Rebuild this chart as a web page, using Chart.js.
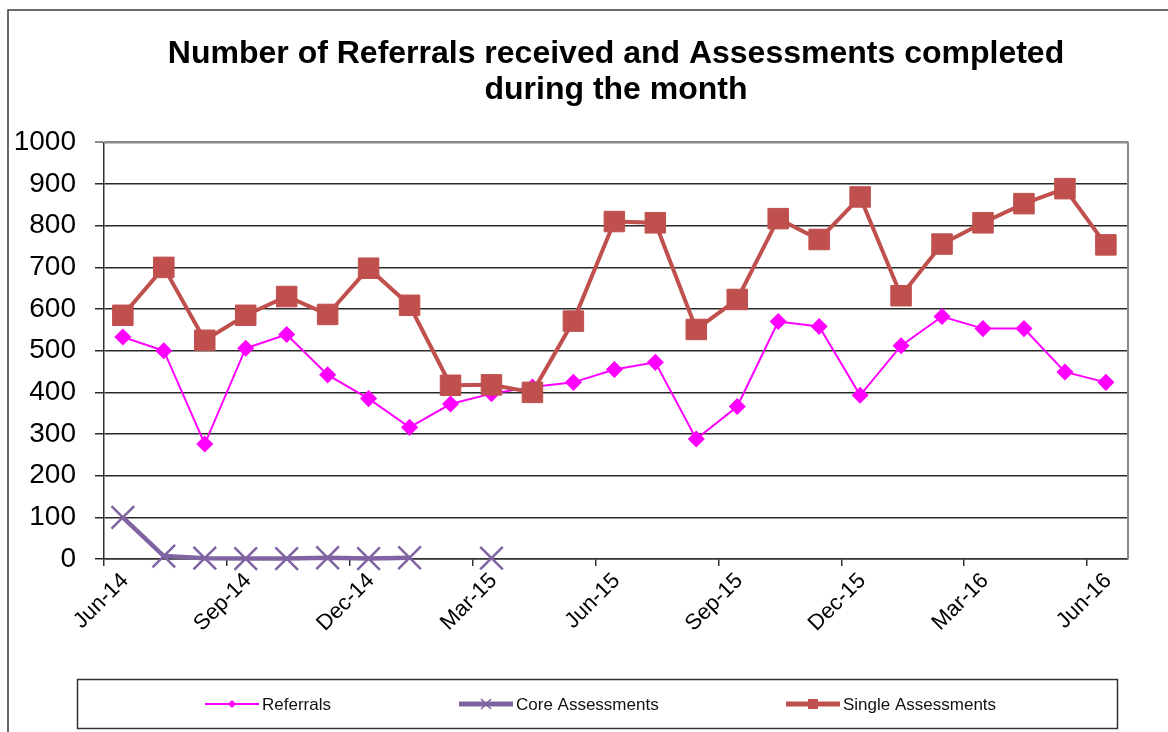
<!DOCTYPE html>
<html>
<head>
<meta charset="utf-8">
<script src="https://cdn.jsdelivr.net/npm/chart.js"></script>
<style>
  html, body { margin: 0; padding: 0; background: #fff; }
  #wrap { width: 1168px; height: 732px; }
</style>
</head>
<body>
<div id="wrap"><canvas id="grafico" width="1168" height="732"></canvas></div>
<script>
// Meses (Jun-14 .. Jun-16) e rótulos do eixo X
const meses = ['Jun-14','Jul-14','Aug-14','Sep-14','Oct-14','Nov-14','Dec-14','Jan-15','Feb-15','Mar-15',
    'Apr-15','May-15','Jun-15','Jul-15','Aug-15','Sep-15','Oct-15','Nov-15','Dec-15','Jan-16',
    'Feb-16','Mar-16','Apr-16','May-16','Jun-16'];
const rotulosX = ['Jun-14','Sep-14','Dec-14','Mar-15','Jun-15','Sep-15','Dec-15','Mar-16','Jun-16'];

// Valores
const referrals = [533, 500, 276, 506, 539, 442, 385, 316, 372, 397, 413, 424, 455, 472, 288, 366, 570, 558, 393, 512, 582, 553, 553, 449, 424];
const coreAssessments = [100, 7, 2, 1, 1, 3, 1, 3, null, 2, null, null, null, null, null, null, null, null, null, null, null, null, null, null, null];
const singleAssessments = [585, 700, 525, 585, 630, 587, 698, 609, 417, 418, 400, 571, 810, 807, 551, 623, 817, 767, 869, 632, 756, 807, 853, 889, 754];

const yTicks = [0, 100, 200, 300, 400, 500, 600, 700, 800, 900, 1000];

// o ponto de cada mês fica no meio do mês (eixo de datas do Excel)
const meioDoMes = 0.46;
const pontos = (valores) => valores.map((v, i) => ({ x: i + meioDoMes, y: v }));

const fonte = "Arial, 'Liberation Sans', sans-serif";

// Moldura externa, borda cinza do plot e legenda em caixa
const molduraELegenda = {
    id: 'molduraELegenda',
    beforeDatasetsDraw(chart) {
        const { ctx, chartArea } = chart;
        ctx.save();
        ctx.strokeStyle = '#8a8a8a';
        ctx.lineWidth = 2;
        ctx.beginPath();
        ctx.moveTo(chartArea.left, chartArea.top);
        ctx.lineTo(chartArea.right, chartArea.top);
        ctx.lineTo(chartArea.right, chartArea.bottom);
        ctx.stroke();
        ctx.restore();
    },
    afterDraw(chart) {
        const ctx = chart.ctx;
        ctx.save();
        ctx.strokeStyle = '#3a3a3a';
        ctx.lineWidth = 1.5;
        ctx.strokeRect(8, 10, 1200, 800);

        ctx.lineWidth = 1.5;
        ctx.strokeStyle = '#333';
        ctx.strokeRect(77.5, 679.5, 1040, 49);

        const inicios = [205, 459, 786];
        const y = 704;
        chart.data.datasets.forEach((ds, k) => {
            const x0 = inicios[k];
            const cx = x0 + 27;
            ctx.strokeStyle = ds.borderColor;
            ctx.fillStyle = ds.borderColor;
            ctx.lineWidth = k === 0 ? 2 : 5;
            ctx.beginPath();
            ctx.moveTo(x0, y);
            ctx.lineTo(x0 + 54, y);
            ctx.stroke();
            if (k === 0) {
                ctx.beginPath();
                ctx.moveTo(cx, y - 4); ctx.lineTo(cx + 4, y); ctx.lineTo(cx, y + 4); ctx.lineTo(cx - 4, y);
                ctx.closePath(); ctx.fill();
            } else if (k === 1) {
                ctx.lineWidth = 1.5;
                ctx.beginPath();
                ctx.moveTo(cx - 5, y - 5); ctx.lineTo(cx + 5, y + 5);
                ctx.moveTo(cx + 5, y - 5); ctx.lineTo(cx - 5, y + 5);
                ctx.stroke();
            } else {
                ctx.fillRect(cx - 5, y - 5, 10, 10);
            }
            ctx.fillStyle = '#111';
            ctx.font = '17px ' + fonte;
            ctx.textAlign = 'left';
            ctx.textBaseline = 'middle';
            ctx.fillText(ds.label, x0 + 57, y + 1);
        });
        ctx.restore();
    }
};

const ctx = document.getElementById('grafico');
new Chart(ctx, {
    type: 'line',
    data: {
        datasets: [
            {
                label: 'Referrals',
                data: pontos(referrals),
                borderColor: '#FF00FF',
                backgroundColor: '#FF00FF',
                borderWidth: 2,
                pointStyle: 'rectRot',
                pointRadius: 7.5,
                pointBorderWidth: 1.5,
                clip: false,
                order: 1
            },
            {
                label: 'Core Assessments',
                data: pontos(coreAssessments),
                borderColor: '#8064A2',
                backgroundColor: '#8064A2',
                borderWidth: 4.5,
                pointStyle: 'crossRot',
                pointRadius: 16,
                pointBorderWidth: 2.5,
                clip: false,
                order: 2
            },
            {
                label: 'Single Assessments',
                data: pontos(singleAssessments),
                borderColor: '#C0504D',
                backgroundColor: '#C0504D',
                borderWidth: 4,
                pointStyle: 'rect',
                pointRadius: 14.5,
                pointBorderWidth: 1,
                clip: false,
                order: 0
            }
        ]
    },
    options: {
        responsive: false,
        animation: false,
        devicePixelRatio: 1,
        layout: { padding: { left: 10, right: 40, top: 10, bottom: 0 } },
        plugins: {
            legend: { display: false },
            tooltip: { enabled: false },
            title: {
                display: true,
                fullSize: false,
                text: ['Number of Referrals received and Assessments completed', 'during the month'],
                color: '#000',
                font: { family: fonte, size: 32, weight: 'bold', lineHeight: 1.1 },
                padding: { top: 27, bottom: 35 }
            }
        },
        scales: {
            x: {
                type: 'linear',
                min: 0,
                max: meses.length,
                afterFit: (scale) => { scale.height = 173; },
                afterBuildTicks: (scale) => {
                    scale.ticks = rotulosX.map((_, k) => ({ value: k * 3 }));
                },
                ticks: {
                    callback: (v) => rotulosX[v / 3],
                    color: '#000',
                    font: { family: fonte, size: 22 },
                    maxRotation: 45,
                    minRotation: 45,
                    labelOffset: 21,
                    padding: 2,
                    autoSkip: false
                },
                grid: { drawOnChartArea: false, drawTicks: true, tickLength: 7, color: '#333', lineWidth: 1.5 },
                border: { color: '#333', width: 1.5 }
            },
            y: {
                min: 0,
                max: 1000,
                afterFit: (scale) => { scale.width = 94; },
                afterBuildTicks: (scale) => {
                    scale.ticks = yTicks.map(v => ({ value: v }));
                },
                ticks: {
                    callback: (v) => String(v),
                    color: '#000',
                    font: { family: fonte, size: 28 },
                    padding: 19
                },
                grid: {
                    color: (c) => (c.tick && c.tick.value === 1000) ? '#8a8a8a' : '#2a2a2a',
                    lineWidth: (c) => (c.tick && c.tick.value === 1000) ? 2 : 1.5,
                    tickLength: 9,
                    drawTicks: true
                },
                border: { color: '#333', width: 1.5 }
            }
        }
    },
    plugins: [molduraELegenda]
});
</script>
</body>
</html>
